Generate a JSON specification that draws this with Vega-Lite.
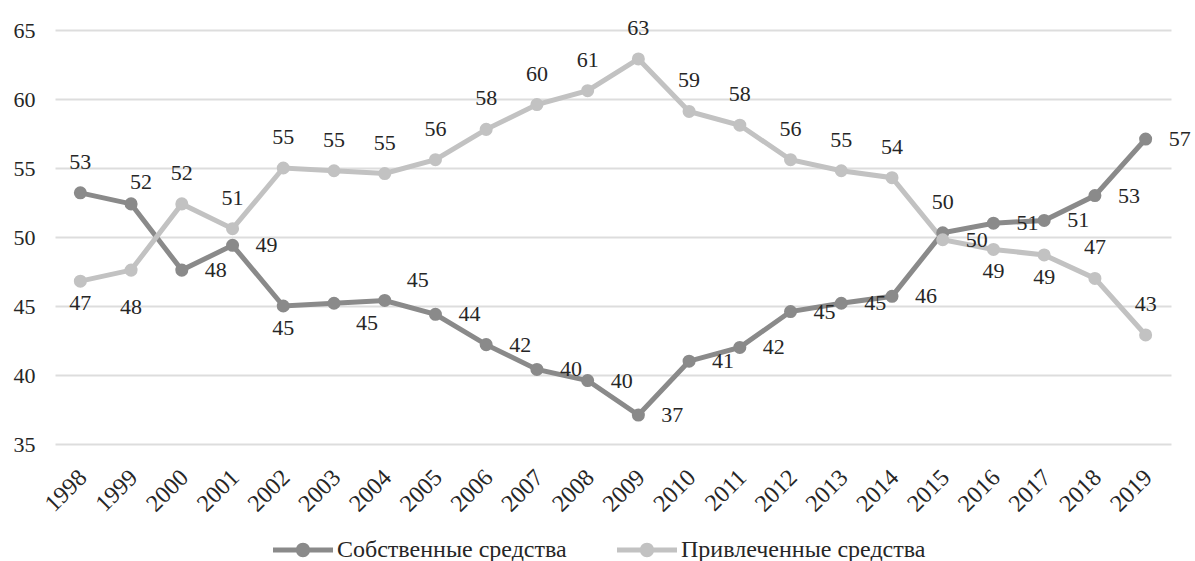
{
  "$schema": "https://vega.github.io/schema/vega-lite/v6.json",
  "width": 1116,
  "height": 414,
  "autosize": "none",
  "padding": {"left": 55, "top": 30, "right": 24, "bottom": 117},
  "background": "white",
  "config": {
    "view": {"stroke": null},
    "font": "Liberation Serif",
    "text": {"font": "Liberation Serif", "fontSize": 22, "color": "#262626"}
  },
  "data": {
    "values": [
      {"year": "1998", "series": "Собственные средства", "value": 53.2},
      {"year": "1999", "series": "Собственные средства", "value": 52.4},
      {"year": "2000", "series": "Собственные средства", "value": 47.6},
      {"year": "2001", "series": "Собственные средства", "value": 49.4},
      {"year": "2002", "series": "Собственные средства", "value": 45.0},
      {"year": "2003", "series": "Собственные средства", "value": 45.2},
      {"year": "2004", "series": "Собственные средства", "value": 45.4},
      {"year": "2005", "series": "Собственные средства", "value": 44.4},
      {"year": "2006", "series": "Собственные средства", "value": 42.2},
      {"year": "2007", "series": "Собственные средства", "value": 40.4},
      {"year": "2008", "series": "Собственные средства", "value": 39.6},
      {"year": "2009", "series": "Собственные средства", "value": 37.1},
      {"year": "2010", "series": "Собственные средства", "value": 41.0},
      {"year": "2011", "series": "Собственные средства", "value": 42.0},
      {"year": "2012", "series": "Собственные средства", "value": 44.6},
      {"year": "2013", "series": "Собственные средства", "value": 45.2},
      {"year": "2014", "series": "Собственные средства", "value": 45.7},
      {"year": "2015", "series": "Собственные средства", "value": 50.3},
      {"year": "2016", "series": "Собственные средства", "value": 51.0},
      {"year": "2017", "series": "Собственные средства", "value": 51.2},
      {"year": "2018", "series": "Собственные средства", "value": 53.0},
      {"year": "2019", "series": "Собственные средства", "value": 57.1},
      {"year": "1998", "series": "Привлеченные средства", "value": 46.8},
      {"year": "1999", "series": "Привлеченные средства", "value": 47.6},
      {"year": "2000", "series": "Привлеченные средства", "value": 52.4},
      {"year": "2001", "series": "Привлеченные средства", "value": 50.6},
      {"year": "2002", "series": "Привлеченные средства", "value": 55.0},
      {"year": "2003", "series": "Привлеченные средства", "value": 54.8},
      {"year": "2004", "series": "Привлеченные средства", "value": 54.6},
      {"year": "2005", "series": "Привлеченные средства", "value": 55.6},
      {"year": "2006", "series": "Привлеченные средства", "value": 57.8},
      {"year": "2007", "series": "Привлеченные средства", "value": 59.6},
      {"year": "2008", "series": "Привлеченные средства", "value": 60.6},
      {"year": "2009", "series": "Привлеченные средства", "value": 62.9},
      {"year": "2010", "series": "Привлеченные средства", "value": 59.1},
      {"year": "2011", "series": "Привлеченные средства", "value": 58.1},
      {"year": "2012", "series": "Привлеченные средства", "value": 55.6},
      {"year": "2013", "series": "Привлеченные средства", "value": 54.8},
      {"year": "2014", "series": "Привлеченные средства", "value": 54.3},
      {"year": "2015", "series": "Привлеченные средства", "value": 49.8},
      {"year": "2016", "series": "Привлеченные средства", "value": 49.1},
      {"year": "2017", "series": "Привлеченные средства", "value": 48.7},
      {"year": "2018", "series": "Привлеченные средства", "value": 47.0},
      {"year": "2019", "series": "Привлеченные средства", "value": 42.9}
    ]
  },
  "encoding": {
    "x": {
      "field": "year", "type": "ordinal",
      "scale": {"type": "point", "padding": 0.5},
      "axis": {
        "title": null, "domain": false, "ticks": false, "grid": false,
        "labelAngle": -45, "labelAlign": "right", "labelBaseline": "top",
        "labelFont": "Liberation Serif", "labelFontSize": 24,
        "labelColor": "#262626", "labelPadding": 21, "labelOffset": -6
      }
    },
    "y": {
      "field": "value", "type": "quantitative",
      "scale": {"domain": [35, 65], "nice": false, "zero": false},
      "axis": {
        "title": null, "domain": false, "ticks": false,
        "values": [35, 40, 45, 50, 55, 60, 65],
        "gridColor": "#dddddd", "gridWidth": 2,
        "labelFont": "Liberation Serif", "labelFontSize": 22,
        "labelColor": "#262626", "labelPadding": 20
      }
    },
    "color": {
      "field": "series", "type": "nominal",
      "scale": {
        "domain": ["Собственные средства", "Привлеченные средства"],
        "range": ["#8a8a8a", "#c2c2c2"]
      },
      "legend": {
        "title": null, "orient": "none", "direction": "horizontal",
        "legendX": 218, "legendY": 490,
        "labelFont": "Liberation Serif", "labelFontSize": 24, "labelColor": "#262626",
        "labelLimit": 500,
        "labelOffset": 4, "columnPadding": 50,
        "symbolType": "M-1,-0.085 H1 V0.085 H-1 Z M-0.24,0 A0.24,0.24 0 1,1 0.24,0 A0.24,0.24 0 1,1 -0.24,0 Z",
        "symbolSize": 3600, "symbolStrokeWidth": 0,
        "encode": {
          "symbols": {
            "update": {
              "fill": {"scale": "color", "field": "value"},
              "fillOpacity": {"value": 1},
              "strokeWidth": {"value": 0}
            }
          }
        }
      }
    }
  },
  "layer": [
    {"mark": {"type": "line", "strokeWidth": 5}},
    {"mark": {"type": "point", "filled": true, "size": 170, "opacity": 1}},
    {
      "transform": [{"filter": "(datum.series=='Привлеченные средства' && indexof(['2000','2001','2002','2003','2004','2005','2006','2007','2008','2009','2010','2011','2012','2013','2014','2018','2019'], datum.year)>=0) || (datum.series=='Собственные средства' && indexof(['1998','2015'], datum.year)>=0)"}],
      "mark": {"type": "text", "dy": -31},
      "encoding": {"text": {"field": "value", "type": "quantitative", "format": ".0f"}, "color": {"value": "#262626"}}
    },
    {
      "transform": [{"filter": "datum.series=='Собственные средства' && datum.year=='1999'"}],
      "mark": {"type": "text", "dx": 10, "dy": -22},
      "encoding": {"text": {"field": "value", "type": "quantitative", "format": ".0f"}, "color": {"value": "#262626"}}
    },
    {
      "transform": [{"filter": "(datum.series=='Привлеченные средства' && indexof(['1998','2016','2017'], datum.year)>=0) || (datum.series=='Собственные средства' && datum.year=='2002')"}],
      "mark": {"type": "text", "dy": 22},
      "encoding": {"text": {"field": "value", "type": "quantitative", "format": ".0f"}, "color": {"value": "#262626"}}
    },
    {
      "transform": [{"filter": "datum.series=='Привлеченные средства' && datum.year=='1999'"}],
      "mark": {"type": "text", "dy": 37},
      "encoding": {"text": {"field": "value", "type": "quantitative", "format": ".0f"}, "color": {"value": "#262626"}}
    },
    {
      "transform": [{"filter": "(datum.series=='Собственные средства' && indexof(['2000','2001','2005','2006','2007','2008','2009','2010','2011','2012','2013','2014','2016','2017','2018','2019'], datum.year)>=0) || (datum.series=='Привлеченные средства' && datum.year=='2015')"}],
      "mark": {"type": "text", "dx": 34},
      "encoding": {"text": {"field": "value", "type": "quantitative", "format": ".0f"}, "color": {"value": "#262626"}}
    },
    {
      "transform": [{"filter": "datum.series=='Собственные средства' && datum.year=='2003'"}],
      "mark": {"type": "text", "dx": 33, "dy": 20},
      "encoding": {"text": {"field": "value", "type": "quantitative", "format": ".0f"}, "color": {"value": "#262626"}}
    },
    {
      "transform": [{"filter": "datum.series=='Собственные средства' && datum.year=='2004'"}],
      "mark": {"type": "text", "dx": 33, "dy": -20},
      "encoding": {"text": {"field": "value", "type": "quantitative", "format": ".0f"}, "color": {"value": "#262626"}}
    }
  ]
}
